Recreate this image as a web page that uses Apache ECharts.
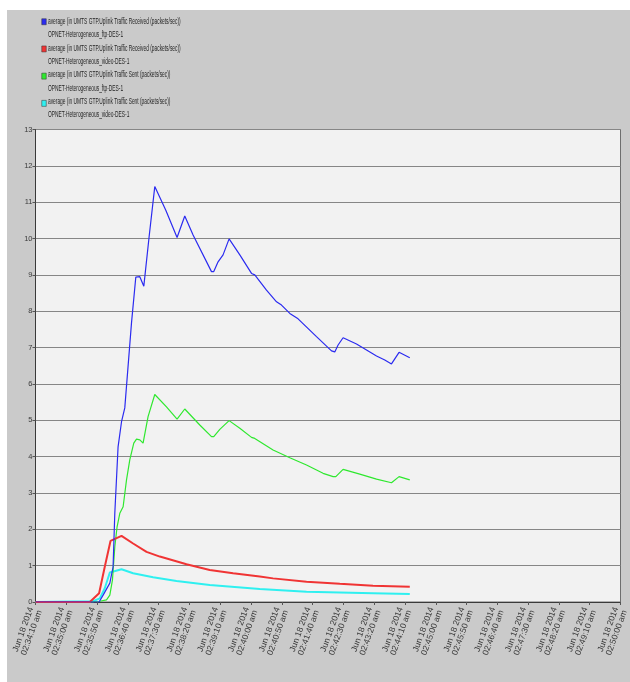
<!DOCTYPE html>
<html>
<head>
<meta charset="utf-8">
<title>UMTS GTP Uplink Traffic</title>
<script src="https://cdn.jsdelivr.net/npm/echarts@6/dist/echarts.min.js"></script>
<style>
  html, body { margin: 0; padding: 0; background: #ffffff; }
  #chart { width: 630px; height: 682px; }
</style>
</head>
<body>
<div id="chart"></div>
<script>
// Sample time axis: seconds elapsed since 02:34:10 am, tick every 50 s
const dateText = 'Jun 18 2014';
const tickTimes = [
  '02:34:10 am', '02:35:00 am', '02:35:50 am', '02:36:40 am', '02:37:30 am',
  '02:38:20 am', '02:39:10 am', '02:40:00 am', '02:40:50 am', '02:41:40 am',
  '02:42:30 am', '02:43:20 am', '02:44:10 am', '02:45:00 am', '02:45:50 am',
  '02:46:40 am', '02:47:30 am', '02:48:20 am', '02:49:10 am', '02:50:00 am'
];
const yTicks = [0, 1, 2, 3, 4, 5, 6, 7, 8, 9, 10, 11, 12, 13];

const statNames = [
  'average (in UMTS GTP.Uplink Traffic Received (packets/sec))',
  'average (in UMTS GTP.Uplink Traffic Received (packets/sec))',
  'average (in UMTS GTP.Uplink Traffic Sent (packets/sec))',
  'average (in UMTS GTP.Uplink Traffic Sent (packets/sec))'
];
const scenarioNames = [
  'OPNET-Heterogeneous_ftp-DES-1',
  'OPNET-Heterogeneous_video-DES-1',
  'OPNET-Heterogeneous_ftp-DES-1',
  'OPNET-Heterogeneous_video-DES-1'
];
const seriesColors = ['#2b2bf0', '#f03434', '#2fe82f', '#2ff0f0'];

// [seconds, packets/sec]
const receivedFtp = [
  [0, 0], [103.3, 0], [109.8, 0.19], [120.7, 0.52], [126, 0.97], [128.8, 2.45],
  [134.1, 4.27], [139.7, 4.96], [145, 5.34], [155.9, 7.68], [162.9, 8.94],
  [169.4, 8.95], [175.9, 8.69], [184.5, 10.05], [193.7, 11.43], [211.6, 10.78],
  [229.9, 10.03], [242.4, 10.62], [255.9, 10.1], [285.8, 9.09], [289.5, 9.09],
  [296.5, 9.36], [304.6, 9.55], [314.4, 9.99], [331.8, 9.55], [350.8, 9.04],
  [356.1, 9.0], [375.1, 8.58], [391.4, 8.26], [399.5, 8.17], [413, 7.94],
  [426.4, 7.79], [456.3, 7.3], [480.7, 6.91], [486, 6.88], [491.4, 7.07],
  [499.5, 7.27], [521.3, 7.1], [553.8, 6.77], [567.2, 6.66], [578.1, 6.55],
  [590.4, 6.87], [607.8, 6.72]
];
const receivedVideo = [
  [0, 0], [88.2, 0], [103.3, 0.24], [112.5, 0.97], [121.8, 1.68], [139.7, 1.82],
  [158.5, 1.61], [180.3, 1.38], [201.9, 1.25], [245.2, 1.04], [283, 0.88],
  [320.9, 0.79], [364.2, 0.7], [385.8, 0.65], [440.1, 0.56], [494.2, 0.5],
  [548.2, 0.45], [607.8, 0.42]
];
const sentFtp = [
  [0, 0], [104.4, 0.02], [115.3, 0.06], [120.7, 0.19], [125, 0.61], [128.8, 1.52],
  [132.5, 2.07], [136.9, 2.44], [142.3, 2.62], [147.8, 3.36], [153.1, 3.91],
  [159.6, 4.37], [164, 4.48], [169.4, 4.46], [174.7, 4.37], [182.8, 5.1],
  [193.7, 5.71], [212.7, 5.37], [229.9, 5.03], [242.4, 5.31], [266.8, 4.87],
  [285.8, 4.55], [289.5, 4.55], [299.3, 4.75], [314.4, 4.99], [331.8, 4.78],
  [350.8, 4.53], [356.1, 4.5], [385.8, 4.18], [413, 3.97], [440.1, 3.77],
  [467, 3.54], [483.3, 3.45], [487.7, 3.45], [499.5, 3.65], [526.6, 3.52],
  [553.8, 3.38], [578.1, 3.28], [590.4, 3.45], [607.8, 3.36]
];
const sentVideo = [
  [0, 0], [93.5, 0.02], [104.4, 0.1], [112.5, 0.38], [120.7, 0.81], [139.7, 0.9],
  [158.5, 0.79], [191, 0.68], [229, 0.58], [283, 0.47], [364.2, 0.36],
  [440.1, 0.28], [548.2, 0.24], [607.8, 0.22]
];

const seriesData = [receivedFtp, receivedVideo, sentFtp, sentVideo];
const lineWidths = [1.2, 2, 1.2, 2];
// unique series ids (two statistics appear once per scenario)
const seriesIds = seriesData.map((_, i) => 'stat' + i);
// drawing order: last in the list ends up on top
const drawOrder = [3, 2, 1, 0];

const chart = echarts.init(document.getElementById('chart'), null, { renderer: 'canvas' });

const textFont = "'Liberation Sans', Arial, sans-serif";
const legendPitch = 26.7;
const legendTop = 21.5;
const legendSqueeze = 0.57;

// two-line legend captions in a narrow face
const legendCaptions = [];
statNames.forEach((txt, i) => {
  [txt, scenarioNames[i]].forEach((line, k) => {
    legendCaptions.push({
      type: 'text',
      x: 48,
      y: legendTop + i * legendPitch + k * 13.3,
      scaleX: legendSqueeze,
      z: 10,
      style: {
        text: line,
        x: 0,
        y: 0,
        verticalAlign: 'middle',
        font: '8.5px ' + textFont,
        fill: '#262626'
      }
    });
  });
});

chart.setOption({
  backgroundColor: '#cacaca',
  animation: false,
  graphic: [
    { type: 'rect', x: 0, y: 0, z: -10, shape: { width: 630, height: 10 }, style: { fill: '#ffffff' } },
    { type: 'rect', x: 0, y: 0, z: -10, shape: { width: 7, height: 682 }, style: { fill: '#ffffff' } }
  ].concat(legendCaptions),
  legend: {
    orient: 'vertical',
    left: 41.5,
    top: legendTop - 3,
    padding: 0,
    itemWidth: 4.5,
    itemHeight: 6,
    itemGap: legendPitch - 6,
    icon: 'rect',
    selectedMode: false,
    data: seriesIds,
    formatter: () => '',
    itemStyle: { borderColor: '#333333', borderWidth: 0.5 },
    textStyle: { fontSize: 6 }
  },
  grid: {
    left: 35.5,
    right: 9.5,
    top: 129.5,
    bottom: 80,
    show: true,
    backgroundColor: '#f2f2f2',
    borderColor: '#6e6e6e',
    borderWidth: 1
  },
  xAxis: {
    type: 'value',
    min: 0,
    max: (tickTimes.length - 1) * 50,
    interval: 50,
    axisLine: { show: true, lineStyle: { color: '#3a3a3a', width: 1 } },
    axisTick: { show: true, length: 3, lineStyle: { color: '#555555' } },
    splitLine: { show: false },
    axisLabel: {
      rotate: 70,
      margin: 7,
      fontFamily: textFont,
      fontSize: 8.5,
      lineHeight: 9,
      color: '#3a3a3a',
      showMinLabel: true,
      showMaxLabel: true,
      formatter: v => {
        const i = Math.round(v / 50);
        return tickTimes[i] ? dateText + '\n' + tickTimes[i] : '';
      }
    }
  },
  yAxis: {
    type: 'value',
    min: yTicks[0],
    max: yTicks[yTicks.length - 1],
    interval: 1,
    axisLine: { show: true, lineStyle: { color: '#3a3a3a', width: 1 } },
    axisTick: { show: true, length: 3, lineStyle: { color: '#555555' } },
    splitLine: { show: true, lineStyle: { color: '#868686', width: 1 } },
    axisLabel: {
      margin: 3,
      fontFamily: textFont,
      fontSize: 7.5,
      color: '#3a3a3a'
    }
  },
  series: drawOrder.map(i => ({
    id: seriesIds[i],
    name: seriesIds[i],
    type: 'line',
    data: seriesData[i],
    showSymbol: false,
    symbol: 'none',
    smooth: false,
    color: seriesColors[i],
    lineStyle: { color: seriesColors[i], width: lineWidths[i] },
    z: 3 + (3 - i)
  }))
});
</script>
</body>
</html>
